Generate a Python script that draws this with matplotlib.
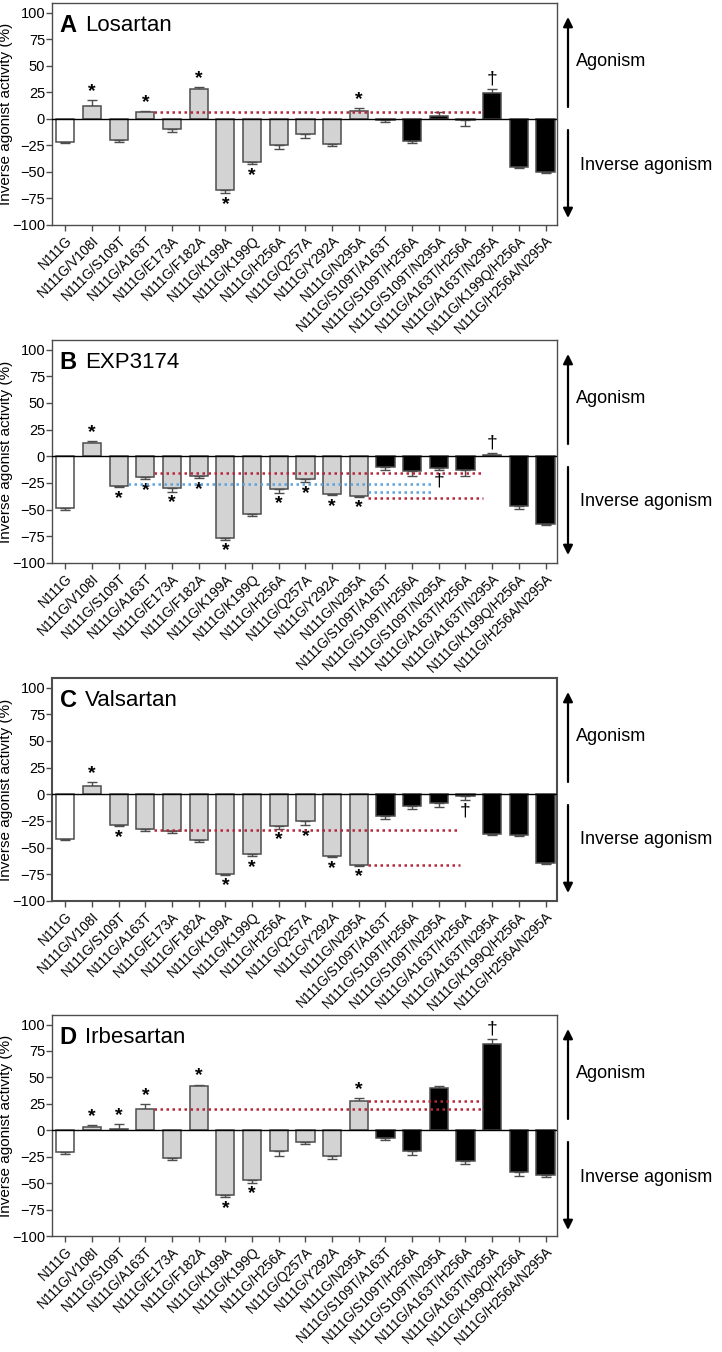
import numpy as np
import matplotlib
matplotlib.use('Agg')
import matplotlib.pyplot as plt

plt.rcParams['font.family'] = ['Liberation Sans', 'DejaVu Sans']

#%% Data

mutants = ['N111G', 'N111G/V108I', 'N111G/S109T', 'N111G/A163T', 'N111G/E173A',
           'N111G/F182A', 'N111G/K199A', 'N111G/K199Q', 'N111G/H256A',
           'N111G/Q257A', 'N111G/Y292A', 'N111G/N295A', 'N111G/S109T/A163T',
           'N111G/S109T/H256A', 'N111G/S109T/N295A', 'N111G/A163T/H256A',
           'N111G/A163T/N295A', 'N111G/K199Q/H256A', 'N111G/H256A/N295A']

panel_letters = ['A', 'B', 'C', 'D']
drug_names = ['Losartan', 'EXP3174', 'Valsartan', 'Irbesartan']

losartan_mean = [-22, 12, -20, 6, -10, 28.5, -67, -41, -25, -14, -23.5, 7.5,
                 -1, -20.5, 2.5, -1.5, 24.5, -45, -50.5]
losartan_sem = [1, 5.5, 1.5, 1.5, 2, 1.5, 3, 2, 3.5, 4, 2, 3,
                2, 2, 4, 5.5, 4, 1.5, 1]

exp3174_mean = [-48.5, 12.5, -28, -19.5, -30, -18, -77, -54, -30.5, -21, -35, -37,
                -10, -14, -10.5, -13, 1, -46.5, -63]
exp3174_sem = [2, 1.5, 1, 2, 3.5, 2.5, 1.5, 2, 4, 3.5, 1.5, 1,
               2.5, 4, 2.5, 5, 2.5, 2.5, 1]

valsartan_mean = [-41.5, 7.5, -28.5, -32.5, -34, -42.5, -74.5, -55.5, -30, -25, -58, -66.5,
                  -20.5, -11, -8.5, -2, -37, -38, -64]
valsartan_sem = [1.5, 4, 1.5, 2, 2.5, 2, 1, 2.5, 2.5, 4, 1, 0.8,
                 3, 3, 3, 3, 1, 1.5, 1]

irbesartan_mean = [-20.5, 3, 1.2, 20.5, -26, 42, -61.5, -47.5, -20, -11, -24, 28,
                   -7, -20, 40, -29.5, 82, -39.5, -42.5]
irbesartan_sem = [2, 2.3, 4.4, 4, 2, 1.2, 2, 2.2, 4, 2, 3, 2.5,
                  2, 3.5, 1.8, 2, 4.7, 3.5, 1.5]

means = [losartan_mean, exp3174_mean, valsartan_mean, irbesartan_mean]
sems = [losartan_sem, exp3174_sem, valsartan_sem, irbesartan_sem]

# significance marks (bar indices)
star_above = [[1, 3, 5, 11], [1], [1], [1, 2, 3, 5, 11]]
star_below = [[6, 7], [2, 3, 4, 5, 6, 8, 9, 10, 11], [2, 6, 7, 8, 9, 10, 11], [6, 7]]
dagger_above = [[16], [16], [], [16]]
dagger_below = [[], [14], [15], []]

# dotted reference levels: (level, from bar, to bar, colour)
ref_lines = [
    [(6, 3.34, 15.66, 'red')],
    [(-15.5, 3.34, 15.66, 'red'), (-26, 2.34, 13.8, 'blue'),
     (-33, 11.34, 13.8, 'blue'), (-39, 11.34, 15.66, 'red')],
    [(-33, 3.34, 14.8, 'red'), (-66.5, 11.34, 14.8, 'red')],
    [(20.5, 3.34, 15.66, 'red'), (28, 11.34, 15.66, 'red')],
]

#%% Plotting

W, H = 722, 1352
fig = plt.figure(figsize=(W / 100, H / 100), dpi=100)

ax_left, ax_right = 52, 557
tops = [3, 340, 678, 1015]
bottoms = [225, 563, 901, 1236]

x = np.arange(len(mutants))
bar_colors = ['white'] + ['#d3d3d3'] * 11 + ['black'] * 7
edge = '#4d4d4d'
line_cols = {'red': '#b5283a', 'blue': '#5ea3dc'}
ax_w = ax_right - ax_left

for k in range(4):
    ax = fig.add_axes([ax_left / W, 1 - bottoms[k] / H,
                       ax_w / W, (bottoms[k] - tops[k]) / H])
    vals = np.array(means[k])
    err = np.array(sems[k])
    lower = np.where(vals < 0, err, 0)
    upper = np.where(vals >= 0, err, 0)

    ax.errorbar(x, vals, yerr=[lower, upper], fmt='none', ecolor=edge,
                elinewidth=1, capsize=3.5, capthick=1, zorder=1)
    ax.bar(x, vals, width=0.68, color=bar_colors, edgecolor=edge,
           linewidth=1.1, zorder=2)
    ax.axhline(0, color='black', lw=1, zorder=3)

    for lvl, x0, x1, c in ref_lines[k]:
        ax.plot([x0, x1], [lvl, lvl], color=line_cols[c], lw=1.8,
                dashes=(1, 1.4), zorder=4)

    for i in star_above[k]:
        ax.annotate('*', (i, vals[i] + upper[i]), xytext=(0, 0),
                    textcoords='offset points', ha='center', va='bottom',
                    fontsize=14, fontweight='bold')
    for i in star_below[k]:
        ax.annotate('*', (i, vals[i] - lower[i]), xytext=(0, -14),
                    textcoords='offset points', ha='center', va='bottom',
                    fontsize=14, fontweight='bold')
    for i in dagger_above[k]:
        ax.annotate('\u2020', (i, vals[i] + upper[i]), xytext=(0, 1),
                    textcoords='offset points', ha='center', va='bottom',
                    fontsize=14)
    for i in dagger_below[k]:
        ax.annotate('\u2020', (i, vals[i] - lower[i]), xytext=(0, -2),
                    textcoords='offset points', ha='center', va='top',
                    fontsize=14)

    ax.set_xlim(-0.5, 18.43)
    ax.set_ylim(-100, 109)
    ax.set_yticks(np.arange(-100, 101, 25))
    ax.set_xticks(x)
    ax.set_xticklabels(mutants, rotation=45, ha='right', rotation_mode='anchor',
                       fontsize=9.8)
    ax.tick_params(axis='y', labelsize=10.5, length=4, width=1, color=edge, pad=1)
    ax.tick_params(axis='x', length=4, width=1, color=edge, pad=2)
    for sp in ax.spines.values():
        sp.set_color(edge)
        sp.set_linewidth(1.5 if k == 2 else 1)
    ax.set_ylabel('Inverse agonist activity (%)', fontsize=11)
    ax.yaxis.set_label_coords((13 - ax_left) / ax_w, 0.5)

    ax.text(0.015, 0.9, panel_letters[k], transform=ax.transAxes,
            fontsize=17, fontweight='bold', va='center')
    ax.text(0.065, 0.9, drug_names[k], transform=ax.transAxes,
            fontsize=16, va='center')

    # agonism / inverse agonism arrows at the right
    h = bottoms[k] - tops[k]
    ax_x = (568 - ax_left) / ax_w
    ax.annotate('', xy=(ax_x, (h - 14) / h), xytext=(ax_x, (h - 104) / h),
                xycoords='axes fraction',
                arrowprops=dict(arrowstyle='-|>', color='black', lw=1.6,
                                mutation_scale=14, shrinkA=0, shrinkB=0))
    ax.annotate('', xy=(ax_x, (h - 215) / h), xytext=(ax_x, (h - 127) / h),
                xycoords='axes fraction',
                arrowprops=dict(arrowstyle='-|>', color='black', lw=1.6,
                                mutation_scale=14, shrinkA=0, shrinkB=0))
    ax.text((576 - ax_left) / ax_w, (h - 59) / h, 'Agonism',
            transform=ax.transAxes, fontsize=13, va='center', ha='left')
    ax.text((580 - ax_left) / ax_w, (h - 162) / h,
            'Inverse agonism', transform=ax.transAxes, fontsize=13,
            va='center', ha='left')

fig.savefig('out.png', dpi=100)
